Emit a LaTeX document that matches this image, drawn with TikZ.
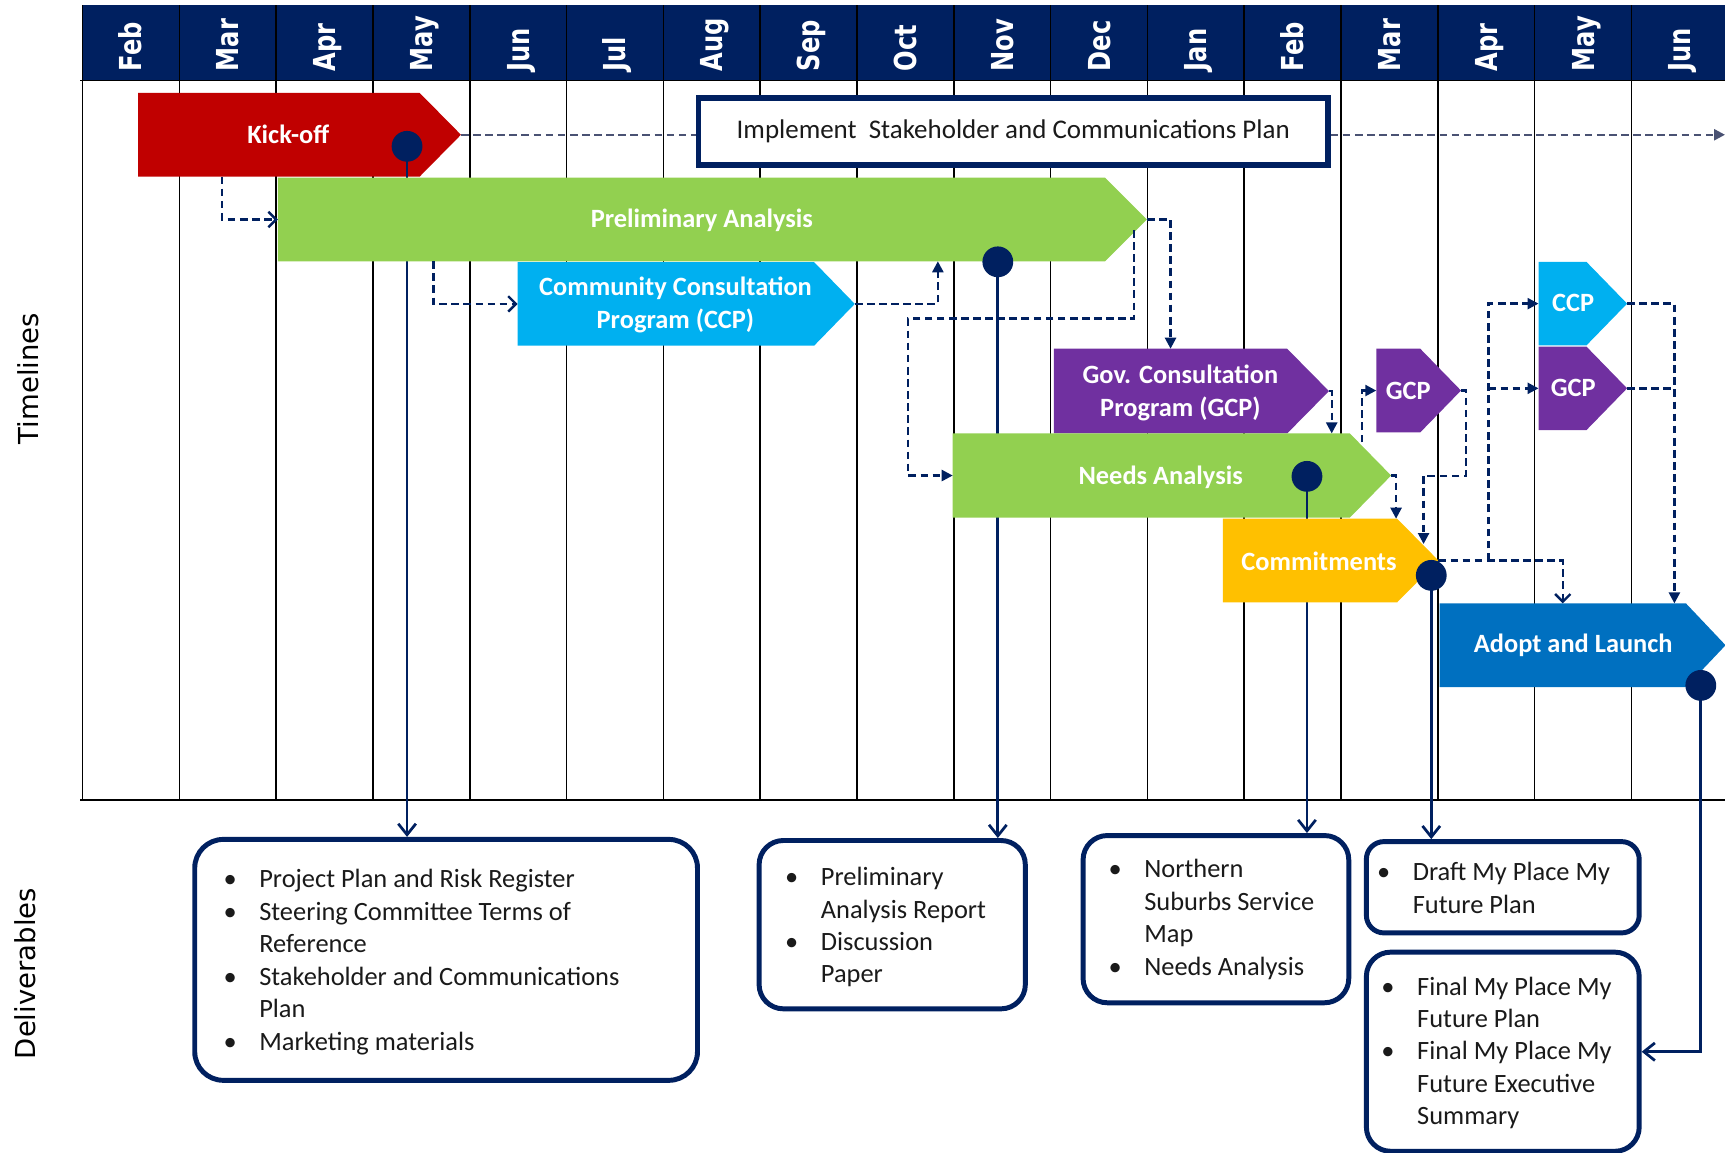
\documentclass[tikz,border=0pt]{standalone}
\usepackage{fontspec}
\setmainfont{Carlito}
\newfontfamily\dejavu{DejaVu Sans}
\usetikzlibrary{arrows.meta,calc}
\definecolor{navy}{HTML}{002060}
\definecolor{kred}{HTML}{C00000}
\definecolor{kgreen}{HTML}{92D050}
\definecolor{kcyan}{HTML}{00B0F0}
\definecolor{kpurple}{HTML}{7030A0}
\definecolor{kamber}{HTML}{FFC000}
\definecolor{kblue}{HTML}{0070C0}
\definecolor{dashgray}{HTML}{4A5273}
\definecolor{txtdark}{HTML}{1A1A1A}
\newcommand\pentag[3]{%
  \fill[#2] (#1.north west) -- (#1.north east) -- ($(#1.east)+(#3,0)$) -- (#1.south east) -- (#1.south west) -- cycle;
  \coordinate (#1-tip) at ($(#1.east)+(#3,0)$);}
\newcommand\tallmon[1]{\scalebox{1}[1.25]{#1}}
\begin{document}
\begin{tikzpicture}[x=1pt,y=-1pt,
  gridline/.style={black, line width=1.4pt},
  month/.style={rotate=90, anchor=base west, inner sep=0pt, text=white, font=\dejavu\bfseries\fontsize{22}{22}\selectfont},
  barshape/.style={inner sep=0pt, outer sep=0pt, minimum height=76pt},
  barlabel/.style={text=white, font=\bfseries\fontsize{24}{30}\selectfont, align=center, inner sep=0pt},
  dbox/.style={draw=navy, line width=4.5pt, fill=white, rounded corners=26pt, inner sep=0pt},
  dtext/.style={anchor=base west, inner sep=0pt, text=txtdark, font=\fontsize{24}{29.5}\selectfont},
  ms/.style={navy, line width=2.5pt},
  msarrow/.style={ms, -{Straight Barb[length=10pt, width=16pt]}},
  dot/.style={circle, fill=navy, minimum size=28pt, inner sep=0pt},
  dconn/.style={navy, line width=2.2pt, dash pattern=on 7pt off 4pt},
  openarr/.style={dconn, -{Straight Barb[length=7pt, width=14pt]}},
  fillarr/.style={dconn, -{Triangle[length=10pt, width=10pt]}},
  sidelab/.style={rotate=90, inner sep=0pt, font=\dejavu\fontsize{25}{25}\selectfont},
]
\useasboundingbox (0,0) rectangle (1568,1048);

% header and grid
\fill[navy] (75,5) rectangle (1568,73);
\foreach \i in {0,...,16} \draw[gridline] ({75+88*\i},5) -- ({75+88*\i},727);
\draw[gridline] (73,73) -- (1568,73);
\draw[gridline] (73,727) -- (1568,727);
\foreach \m [count=\i from 0] in {Feb,Mar,Apr,May,Jun,Jul,Aug,Sep,Oct,Nov,Dec,Jan,Feb,Mar,Apr,May,Jun}
  \node[month] (mon\i) at ({129+88*\i},65) {\tallmon{\m}};

% side labels
\node[sidelab] (tl) at (26,344) {Timelines};
\node[sidelab] (dl) at (23,885) {Deliverables};

% implement box
\node[draw=navy, line width=5pt, fill=white, minimum width=572pt, minimum height=61pt, inner sep=0pt,
      text=txtdark, font=\fontsize{24.5}{24.5}\selectfont] (impl) at (921,119.5) {Implement~~Stakeholder and Communications Plan};

% deliverable boxes
\node[dbox, minimum width=457pt, minimum height=219pt] (d1) at (405.5,872.5) {};
\node[dbox, rounded corners=22pt, minimum width=242pt, minimum height=153pt] (d2) at (811,840.5) {};
\node[dbox, rounded corners=22pt, minimum width=241.5pt, minimum height=152pt] (d3) at (1105.25,835.5) {};
\node[dbox, rounded corners=16pt, minimum width=248pt, minimum height=83pt] (d4) at (1366,806.5) {};
\node[dbox, rounded corners=22pt, minimum width=248pt, minimum height=181pt] (d5) at (1366,956) {};

\node[dtext] (d1t) at (203,807) {\begin{tabular}[t]{@{}p{32.5pt}@{}l@{}}
\textbullet & Project Plan and Risk Register\\
\textbullet & Steering Committee Terms of\\
 & Reference\\
\textbullet & Stakeholder and Communications\\
 & Plan\\
\textbullet & Marketing materials\end{tabular}};
\node[dtext] (d2t) at (713.5,805) {\begin{tabular}[t]{@{}p{32.5pt}@{}l@{}}
\textbullet & Preliminary\\
 & Analysis Report\\
\textbullet & Discussion\\
 & Paper\end{tabular}};
\node[dtext] (d3t) at (1007.5,798) {\begin{tabular}[t]{@{}p{32.5pt}@{}l@{}}
\textbullet & Northern\\
 & Suburbs Service\\
 & Map\\
\textbullet & Needs Analysis\end{tabular}};
\node[dtext] (d4t) at (1251.5,800.5) {\begin{tabular}[t]{@{}p{32.5pt}@{}l@{}}
\textbullet & Draft My Place My\\
 & Future Plan\end{tabular}};
\node[dtext] (d5t) at (1255.5,904.5) {\begin{tabular}[t]{@{}p{32.5pt}@{}l@{}}
\textbullet & Final My Place My\\
 & Future Plan\\
\textbullet & Final My Place My\\
 & Future Executive\\
 & Summary\end{tabular}};

% milestone points
\coordinate (kd) at (370,133);
\coordinate (pd) at (907,238);
\coordinate (nd) at (1188,433);
\coordinate (cd) at (1301,523);
\coordinate (ad) at (1546,623);

% milestone lines to deliverables
\draw[msarrow] (kd) -- (kd |- d1.north);
\draw[msarrow] (pd) -- (pd |- d2.north);
\draw[msarrow] (nd) -- (nd |- d3.north);
\draw[msarrow] (cd) -- (cd |- d4.north);
\draw[msarrow] (ad) |- (d5.east);

% bars
\node[barshape, minimum width=256pt] (kick) at (253.5,122.5) {};
\pentag{kick}{kred}{37.5}
\node[barshape, minimum width=752pt] (prelim) at (628.5,199.5) {};
\pentag{prelim}{kgreen}{38}
\node[barshape, minimum width=269.5pt] (ccp) at (605.25,276.25) {};
\pentag{ccp}{kcyan}{37}
\node[barshape, minimum width=212pt, minimum height=77pt] (gcp) at (1064,355.5) {};
\pentag{gcp}{kpurple}{38}
\node[barshape, minimum width=361pt, minimum height=76.5pt] (needs) at (1046.5,432.25) {};
\pentag{needs}{kgreen}{37.5}
\node[barshape, minimum width=158.5pt] (commit) at (1190.75,509.5) {};
\pentag{commit}{kamber}{37.5}
\node[barshape, minimum width=224pt] (adopt) at (1420.5,586.5) {};
\pentag{adopt}{kblue}{36}
\node[barshape, minimum width=40pt] (gcp1) at (1271,355) {};
\pentag{gcp1}{kpurple}{37}
\node[barshape, minimum width=43.5pt] (ccp2) at (1420.25,276) {};
\pentag{ccp2}{kcyan}{37}
\node[barshape, minimum width=43.5pt] (gcp2) at (1420.25,353) {};
\pentag{gcp2}{kpurple}{37}

\node[barlabel] (kickl) at (262,122.5) {Kick-off};
\node[barlabel] (prelimll) at (638,200) {Preliminary Analysis};
\node[barlabel] (ccpl) at (614,277) {Community Consultation\\Program (CCP)};
\node[barlabel] (gcpl) at (1073,357) {Gov. Consultation\\Program (GCP)};
\node[barlabel] (needsl) at (1055,434) {Needs Analysis};
\node[barlabel] (commitl) at (1199,510) {Commitments};
\node[barlabel] (adoptl) at (1430,587) {Adopt and Launch};
\node[barlabel] (gcp1l) at (1280,355) {GCP};
\node[barlabel] (ccp2l) at (1430,275) {CCP};
\node[barlabel] (gcp2l) at (1430,353) {GCP};

% visible segments and dots
\draw[ms] (kd) -- (kd |- kick.south);
\draw[ms] (nd) -- (nd |- needs.south);
\node[dot] (kdot) at (kd) {};
\node[dot] (pdot) at (pd) {};
\node[dot] (ndot) at (nd) {};
\node[dot] (cdot) at (cd) {};
\node[dot] (adot) at (ad) {};

% dashed connectors
\draw[dconn, dashgray] (kick-tip) -- (kick-tip -| impl.west);
\coordinate (rightend) at (1568,122.5);
\draw[dconn, dashgray, -{Triangle[length=10pt, width=10pt]}] (kick-tip -| impl.east) -- (rightend);

\coordinate (kickdrop) at ($(kick.south west)+(76.5,0)$);
\draw[openarr] (kickdrop) |- (prelim.west);
\coordinate (predrop) at ($(prelim.south west)+(141.5,0)$);
\draw[openarr] (predrop) |- (ccp.west);
\draw[fillarr] (ccp-tip) -| ($(prelim.south west)+(600,0)$);
\draw[fillarr] (prelim-tip) -| (gcp.north);
\coordinate (c6s) at (1031,209);
\coordinate (c6m) at (825.5,289.5);
\draw[fillarr] (c6s) |- (c6m) |- (needs.west);
\draw[fillarr] (gcp-tip) -| ($(needs.north east)+(-16.5,0)$);
\coordinate (c8s) at ($(needs.north east)+(11,8)$);
\draw[fillarr] (c8s) |- (gcp1.west);
\coordinate (c9a) at ($(gcp1-tip)+(4.5,77.5)$);
\coordinate (c9b) at ($(commit.north east)+(24,23)$);
\draw[fillarr] (gcp1-tip) -| (c9a) -| (c9b);
\draw[fillarr] (needs-tip) -| ($(commit.north east)+(-1,0)$);
\draw[openarr] (commit-tip) -| (adopt.north);
\coordinate (j1) at ($(commit-tip)+(45.5,0)$);
\draw[fillarr] (j1) |- (ccp2.west);
\draw[fillarr] (j1 |- gcp2.west) -- (gcp2.west);
\coordinate (j2) at ($(adopt.north east)+(-10.5,0)$);
\draw[fillarr] (ccp2-tip) -| (j2);
\draw[dconn] (gcp2-tip) -- (gcp2-tip -| j2);
\end{tikzpicture}
\end{document}
